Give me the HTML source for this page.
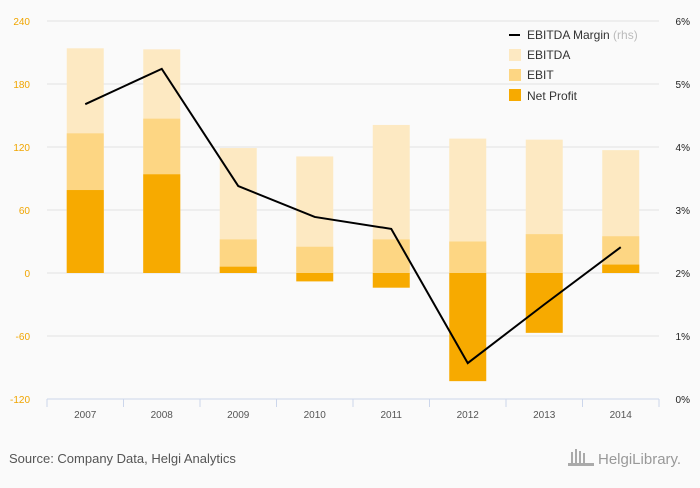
<!DOCTYPE html>
<html><head><meta charset="utf-8"><style>
body{margin:0;background:#fafafa;font-family:"Liberation Sans",sans-serif}
svg text{font-family:"Liberation Sans",sans-serif}
</style></head><body>
<svg id="c" width="700" height="483">
<rect width="700" height="483" fill="#fafafa"/>
<g id="grid"></g><g id="bars"></g><g id="line"></g><g id="axes"></g>
<g font-size="12" fill="#333">
<line x1="509" y1="35" x2="520" y2="35" stroke="#000" stroke-width="2"/>
<text x="527" y="39">EBITDA Margin <tspan fill="#bbb">(rhs)</tspan></text>
<rect x="509" y="49" width="12" height="12" fill="#fde9c2"/><text x="527" y="59">EBITDA</text>
<rect x="509" y="69" width="12" height="12" fill="#fdd683"/><text x="527" y="79">EBIT</text>
<rect x="509" y="89" width="12" height="12" fill="#f7aa00"/><text x="527" y="100">Net Profit</text>
</g>
<text x="9" y="463" font-size="13" fill="#555">Source: Company Data, Helgi Analytics</text>
<text x="598" y="464" font-size="15" fill="#999" font-family="Liberation Serif">HelgiLibrary.</text>
<g fill="#aaa"><rect x="571" y="452" width="2" height="13"/><rect x="575" y="449" width="2" height="16"/><rect x="579" y="451" width="2" height="14"/><rect x="583" y="453" width="2" height="12"/><rect x="568" y="463" width="26" height="3"/></g>
</svg>
<script>
const categories=["2007","2008","2009","2010","2011","2012","2013","2014"];
const ebitda=[214,213,119,111,141,128,127,117];
const ebit=[133,147,32,25,32,30,37,35];
const netProfit=[79,94,6,-8,-14,-103,-57,8];
const margin=[4.68,5.24,3.38,2.89,2.70,0.57,1.5,2.41];
const leftTicks=[240,180,120,60,0,-60,-120];
const rightTicks=["6%","5%","4%","3%","2%","1%","0%"];
const NS="http://www.w3.org/2000/svg";
const x0=47,x1=659,bw=(x1-x0)/categories.length;
const y=v=>273-v*1.05;
const yr=p=>399-p*63;
const xc=i=>x0+bw*(i+0.5);
function mk(t,a,p){const e=document.createElementNS(NS,t);for(const k in a)e.setAttribute(k,a[k]);document.getElementById(p).appendChild(e);return e;}
leftTicks.forEach((v,i)=>{
 if(v>-120){const g=mk('line',{x1:x0,x2:x1,y1:y(v),y2:y(v),stroke:'#e3e3e3'},'grid');
 
 }
 const t=mk('text',{x:30,y:y(v)+4,'text-anchor':'end','font-size':10,fill:'#f0a500'},'axes');t.textContent=v;
 
 
 const r=mk('text',{x:690,y:y(v)+4,'text-anchor':'end','font-size':10,fill:'#222'},'axes');r.textContent=rightTicks[i];
 
 
});
const ax=mk('line',{x1:x0,x2:x1,y1:399,y2:399,stroke:'#ccd6eb'},'axes');


for(let i=0;i<=categories.length;i++){const tk=mk('line',{x1:x0+bw*i,x2:x0+bw*i,y1:399,y2:407,stroke:'#ccd6eb'},'axes');
 
 }
const bwid=37;
function bar(v,i,c,n){const a=y(Math.max(v,0)),b=y(Math.min(v,0));
 const r=mk('rect',{x:xc(i)-bwid/2,y:a,width:bwid,height:b-a,fill:c},'bars');
 
 }
categories.forEach((c,i)=>{
 bar(ebitda[i],i,'#fde9c2','bar-ebitda-'+c);
 bar(ebit[i],i,'#fdd683','bar-ebit-'+c);
 bar(netProfit[i],i,'#f7aa00','bar-net-profit-'+c);
 const t=mk('text',{x:xc(i),y:418,'text-anchor':'middle','font-size':10,fill:'#555'},'axes');t.textContent=c;
 
 
});
const pl=mk('polyline',{points:margin.map((m,i)=>xc(i)+','+yr(m)).join(' '),fill:'none',stroke:'#000','stroke-width':2},'line');


</script>
</body></html>
